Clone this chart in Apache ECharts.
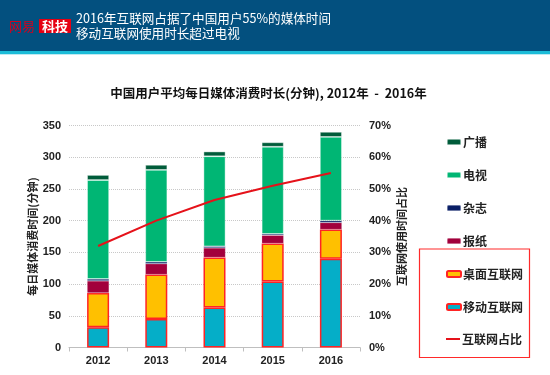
<!DOCTYPE html>
<html>
<head>
<meta charset="utf-8">
<script src="https://cdn.jsdelivr.net/npm/echarts@6/dist/echarts.min.js"></script>
<style>
html,body{margin:0;padding:0;background:#fff;}
#main{width:550px;height:375px;}
</style>
</head>
<body>
<div id="main"></div>
<script>
// ---- data ----
const years = ['2012', '2013', '2014', '2015', '2016'];
const mobile = [32, 45, 63, 104, 140];
const desktop = [54, 70, 79, 60, 46];
const newspaper = [19, 17, 15, 13, 11];
const magazine = [3, 3, 2.5, 2, 3];
const tv = [156, 145, 142, 137.5, 132];
const radio = [8, 8, 7.5, 7, 8];
const internetShare = [32, 40, 46.5, 51, 55];
const leftTicks = [0, 350, 50];
const rightTicks = [0, 70, 10];

const headerLine1 = '2016年互联网占据了中国用户55%的媒体时间';
const headerLine2 = '移动互联网使用时长超过电视';
const chartTitle = '中国用户平均每日媒体消费时长(分钟), 2012年  -  2016年';

const FONT = "'Liberation Sans', 'Noto Sans CJK SC', sans-serif";
const CJK = "'Noto Sans CJK SC', 'Liberation Sans', sans-serif";

const chart = echarts.init(document.getElementById('main'));

function barSeries(name, data, color, borderColor, borderWidth) {
  return {
    name: name,
    type: 'bar',
    stack: 'total',
    data: data,
    barWidth: 22,
    itemStyle: { color: color, borderColor: borderColor, borderWidth: borderWidth },
    emphasis: { disabled: true }
  };
}

const legendText = { color: '#222', fontSize: 12, fontWeight: 'bold', lineHeight: 14, fontFamily: CJK, padding: [0, 0, 0, -3] };

const option = {
  animation: false,
  backgroundColor: '#ffffff',
  textStyle: { fontFamily: FONT },
  grid: { left: 69, right: 190, top: 125.5, bottom: 27.5 },
  xAxis: {
    type: 'category',
    data: years,
    axisLine: { lineStyle: { color: '#bfbfbf', width: 1 } },
    axisTick: { show: true, length: 4, lineStyle: { color: '#bfbfbf' } },
    axisLabel: { color: '#222', fontSize: 11, margin: 8, fontFamily: FONT, fontWeight: 'bold' }
  },
  yAxis: [
    {
      type: 'value',
      min: leftTicks[0], max: leftTicks[1], interval: leftTicks[2],
      name: '每日媒体消费时间(分钟)',
      nameLocation: 'middle',
      nameRotate: 90,
      nameGap: 31,
      nameMoveOverlap: false,
      nameTextStyle: { color: '#222', fontSize: 11, fontWeight: 'bold', fontFamily: CJK },
      axisLine: { show: false },
      axisTick: { show: false },
      axisLabel: { color: '#222', fontSize: 11, margin: 8, fontFamily: FONT, fontWeight: 'bold' },
      splitLine: { show: true, lineStyle: { color: '#c8c8c8', type: 'dotted', width: 1 } }
    },
    {
      type: 'value',
      min: rightTicks[0], max: rightTicks[1], interval: rightTicks[2],
      position: 'right',
      name: '互联网使用时间占比',
      nameLocation: 'middle',
      nameRotate: 90,
      nameGap: 36,
      nameMoveOverlap: false,
      nameTextStyle: { color: '#222', fontSize: 11, fontWeight: 'bold', fontFamily: CJK },
      axisLine: { show: false },
      axisTick: { show: false },
      axisLabel: { color: '#222', fontSize: 11, margin: 9, formatter: '{value}%', fontFamily: FONT, fontWeight: 'bold' },
      splitLine: { show: false }
    }
  ],
  legend: [
    {
      orient: 'vertical',
      left: 441,
      top: 130,
      itemWidth: 14,
      itemHeight: 6,
      itemGap: 19,
      selectedMode: false,
      textStyle: legendText,
      data: ['广播', '电视', '杂志', '报纸', '桌面互联网', '移动互联网']
    },
    {
      orient: 'vertical',
      left: 441,
      top: 327,
      itemWidth: 14,
      itemHeight: 2,
      icon: 'rect',
      selectedMode: false,
      textStyle: legendText,
      data: ['互联网占比']
    }
  ],
  series: [
    barSeries('移动互联网', mobile, '#05AEC8', '#FF2424', 1.5),
    barSeries('桌面互联网', desktop, '#FFC000', '#FF2424', 1.5),
    barSeries('报纸', newspaper, '#A2003C', 'rgba(255,255,255,0.4)', 0.5),
    barSeries('杂志', magazine, '#0A1F66', 'rgba(255,255,255,0.4)', 0.5),
    barSeries('电视', tv, '#00B674', 'rgba(255,255,255,0.5)', 0.8),
    barSeries('广播', radio, '#005C3A', 'rgba(255,255,255,0.5)', 0.8),
    {
      name: '互联网占比',
      type: 'line',
      yAxisIndex: 1,
      data: internetShare,
      symbol: 'none',
      lineStyle: { color: '#E5121A', width: 2 },
      itemStyle: { color: '#E5121A' },
      emphasis: { disabled: true }
    }
  ],
  graphic: [
    { type: 'rect', shape: { x: 0, y: 0, width: 550, height: 51 }, style: { fill: '#03507F' }, silent: true },
    { type: 'rect', shape: { x: 0, y: 51, width: 550, height: 3 }, style: { fill: '#1CBCD8' }, silent: true },
    { type: 'rect', shape: { x: 0, y: 54, width: 550, height: 1 }, style: { fill: '#BFEAF2' }, silent: true },
    { type: 'text', x: 9, y: 26, style: { text: '网易', fill: '#D6001C', font: "13px " + CJK, textVerticalAlign: 'middle' }, silent: true },
    { type: 'rect', shape: { x: 39, y: 19, width: 32, height: 14 }, style: { fill: '#E60012' }, silent: true },
    { type: 'text', x: 55, y: 26, style: { text: '科技', fill: '#ffffff', font: "bold 13px " + CJK, textAlign: 'center', textVerticalAlign: 'middle' }, silent: true },
    { type: 'text', x: 76, y: 18.5, style: { text: headerLine1, fill: '#ffffff', font: "12.6px " + CJK, textVerticalAlign: 'middle' }, silent: true },
    { type: 'text', x: 76, y: 33.5, style: { text: headerLine2, fill: '#ffffff', font: "12.6px " + CJK, textVerticalAlign: 'middle' }, silent: true },
    { type: 'text', x: 268.5, y: 93, style: { text: chartTitle, fill: '#111', font: "bold 12.5px " + CJK, textAlign: 'center', textVerticalAlign: 'middle' }, silent: true },
    { type: 'rect', shape: { x: 419.5, y: 249, width: 110, height: 108.5 }, style: { fill: 'none', stroke: '#FF2A2A', lineWidth: 1.2 }, silent: true }
  ]
};

chart.setOption(option);
</script>
</body>
</html>
